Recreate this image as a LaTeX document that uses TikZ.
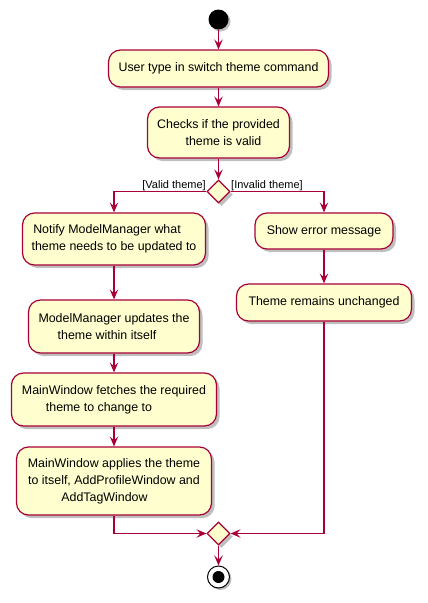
\documentclass[tikz,border=0pt]{standalone}
\usepackage{fontspec}
\setmainfont{Liberation Sans}
\usetikzlibrary{arrows.meta,shapes.geometric,shadows}
\definecolor{actfill}{HTML}{FEFECE}
\definecolor{actline}{HTML}{A80036}
\begin{document}
\begin{tikzpicture}[x=1pt,y=-1pt,
  act/.style={draw=actline, fill=actfill, line width=1.2pt, rounded corners=12pt,
    align=center, inner sep=0pt, font=\fontsize{12.4}{17}\selectfont,
    drop shadow={shadow xshift=3pt, shadow yshift=-3pt, opacity=0.25, fill=black}},
  dia/.style={diamond, draw=actline, fill=actfill, line width=1.2pt, inner sep=0pt,
    minimum width=23pt, minimum height=23pt,
    drop shadow={shadow xshift=3pt, shadow yshift=-3pt, opacity=0.25, fill=black}},
  flow/.style={draw=actline, line width=1.2pt, -{Stealth[length=10pt,width=8.5pt,inset=4pt]}},
  guard/.style={font=\fontsize{11}{13}\selectfont, inner sep=0pt}
]
\useasboundingbox (0,0) rectangle (428,603);

\node[circle, fill=black, minimum size=20pt, inner sep=0pt,
  drop shadow={shadow xshift=2pt, shadow yshift=-2pt, opacity=0.25, fill=black}] (start) at (218.5,19.5) {};

\node[act, minimum width=220pt, minimum height=37pt] (b1) at (218.5,68.5) {User type in switch theme command};
\node[act, minimum width=142pt, minimum height=51pt] (b2) at (218.5,132.5) {Checks if the provided\\\hspace*{10pt}theme is valid};
\node[dia] (split) at (218.5,191.5) {};

\node[act, minimum width=183pt, minimum height=52pt] (n1) at (114,239) {Notify ModelManager what\hspace*{14pt}\\theme needs to be updated to};
\node[act, minimum width=171pt, minimum height=53pt] (n2) at (114,326.5) {ModelManager updates the\\theme within itself\hspace*{14pt}};
\node[act, minimum width=205pt, minimum height=53pt] (n3) at (114,399.5) {MainWindow fetches the required\\theme to change to\hspace*{30pt}};
\node[act, minimum width=195pt, minimum height=68pt] (n4) at (114,481) {MainWindow applies the theme\\to itself, AddProfileWindow and\hspace*{8pt}\\AddTagWindow\hspace*{19pt}};

\node[act, minimum width=138pt, minimum height=36pt] (e1) at (324,231) {Show error message};
\node[act, minimum width=175pt, minimum height=37pt] (e2) at (324,302.5) {Theme remains unchanged};

\node[dia] (merge) at (218.5,533.5) {};

\node[circle, draw=black, fill=white, line width=1pt, minimum size=22pt, inner sep=0pt,
  drop shadow={shadow xshift=2pt, shadow yshift=-2pt, opacity=0.25, fill=black}] (stop) at (218.5,577) {};
\node[circle, fill=black, minimum size=12pt, inner sep=0pt] (stopin) at (stop.center) {};

\draw[flow] (start) -- (b1);
\draw[flow] (b1) -- (b2);
\draw[flow] (b2) -- (split);
\draw[flow] (split.west) -| (n1.north);
\draw[flow] (split.east) -| (e1.north);
\node[guard, anchor=base east] (gv) at (206,188.5) {[Valid theme]};
\node[guard, anchor=base west] (gi) at (231,188.5) {[Invalid theme]};

\draw[flow] (n1) -- (n2);
\draw[flow] (n2) -- (n3);
\draw[flow] (n3) -- (n4);
\draw[flow] (e1) -- (e2);

\draw[flow] (n4.south) |- (merge.west);
\draw[flow] (e2.south) |- (merge.east);
\draw[flow] (merge) -- (stop);
\end{tikzpicture}
\end{document}
